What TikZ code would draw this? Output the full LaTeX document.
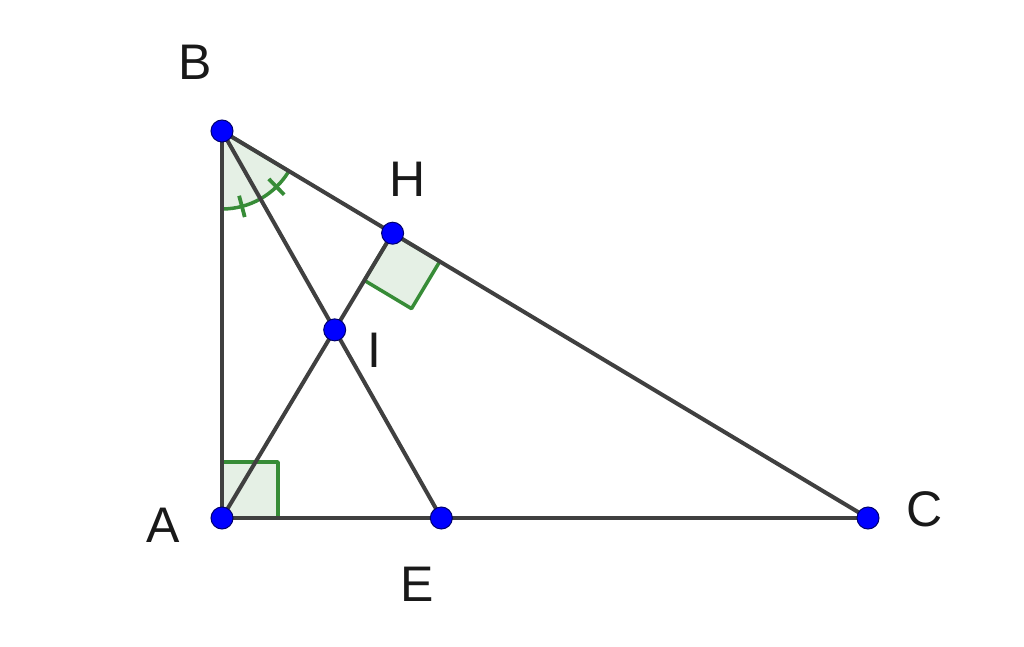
\documentclass[tikz,border=0pt]{standalone}
\usepackage{fontspec}
\setmainfont{Liberation Sans}
\usetikzlibrary{calc}
\definecolor{seg}{RGB}{64,64,64}
\definecolor{mark}{RGB}{55,140,55}
\definecolor{markfill}{RGB}{229,240,229}
\definecolor{ptblue}{RGB}{0,0,255}
\definecolor{ptedge}{RGB}{0,0,110}
\definecolor{lbl}{RGB}{25,25,25}
\tikzset{
  segment/.style={draw=seg, line width=4pt},
  anglemark/.style={draw=mark, line width=3.5pt, fill=markfill, line join=round},
  tickmark/.style={draw=mark, line width=3.8pt},
  pt/.style={circle, fill=ptblue, draw=ptedge, line width=1pt, minimum size=22pt, inner sep=0pt},
  lab/.style={text=lbl, font=\fontsize{50}{60}\selectfont, inner sep=0pt}
}
\begin{document}
\begin{tikzpicture}[x=1pt,y=1pt]
\useasboundingbox (0,0) rectangle (1024,646);
\fill[white] (0,0) rectangle (1024,646);
\coordinate (B) at (222,515);
\coordinate (A) at (222,128);
\coordinate (C) at (868,128);
\coordinate (E) at (441.3,128);
\coordinate (H) at ($(B)!(A)!(C)$);
\coordinate (I) at (intersection of B--E and A--H);
% angle marks
\path[anglemark] (B) -- ++(270:78) arc[start angle=270, end angle=329.07, radius=78] -- cycle;
\draw[tickmark] ($(B)+(284.8:67)$) -- ($(B)+(284.8:89)$);
\draw[tickmark] ($(B)+(314.3:67)$) -- ($(B)+(314.3:89)$);
\coordinate (HA) at ($(H)!55pt!(A)$);
\coordinate (HC) at ($(H)!55pt!(C)$);
\path[anglemark] (H) -- (HA) -- ($(HA)+(HC)-(H)$) -- (HC) -- cycle;
\path[anglemark] (A) -- (222,184) -- (278,184) -- (278,128) -- cycle;
% segments
\draw[segment] (A) -- (B);
\draw[segment] (B) -- (C);
\draw[segment] (A) -- (C);
\draw[segment] (B) -- (E);
\draw[segment] (A) -- (H);
% points
\node[pt] (pB) at (B) {};
\node[pt] (pA) at (A) {};
\node[pt] (pC) at (C) {};
\node[pt] (pE) at (E) {};
\node[pt] (pH) at (H) {};
\node[pt] (pI) at (I) {};
% labels
\node[lab] (lB) at (195,584) {B};
\node[lab] (lH) at (408,467) {H};
\node[lab] (lI) at (374,296) {I};
\node[lab] (lA) at (163,121) {A};
\node[lab] (lE) at (417,62) {E};
\node[lab] (lC) at (925,137) {C};
\end{tikzpicture}
\end{document}
